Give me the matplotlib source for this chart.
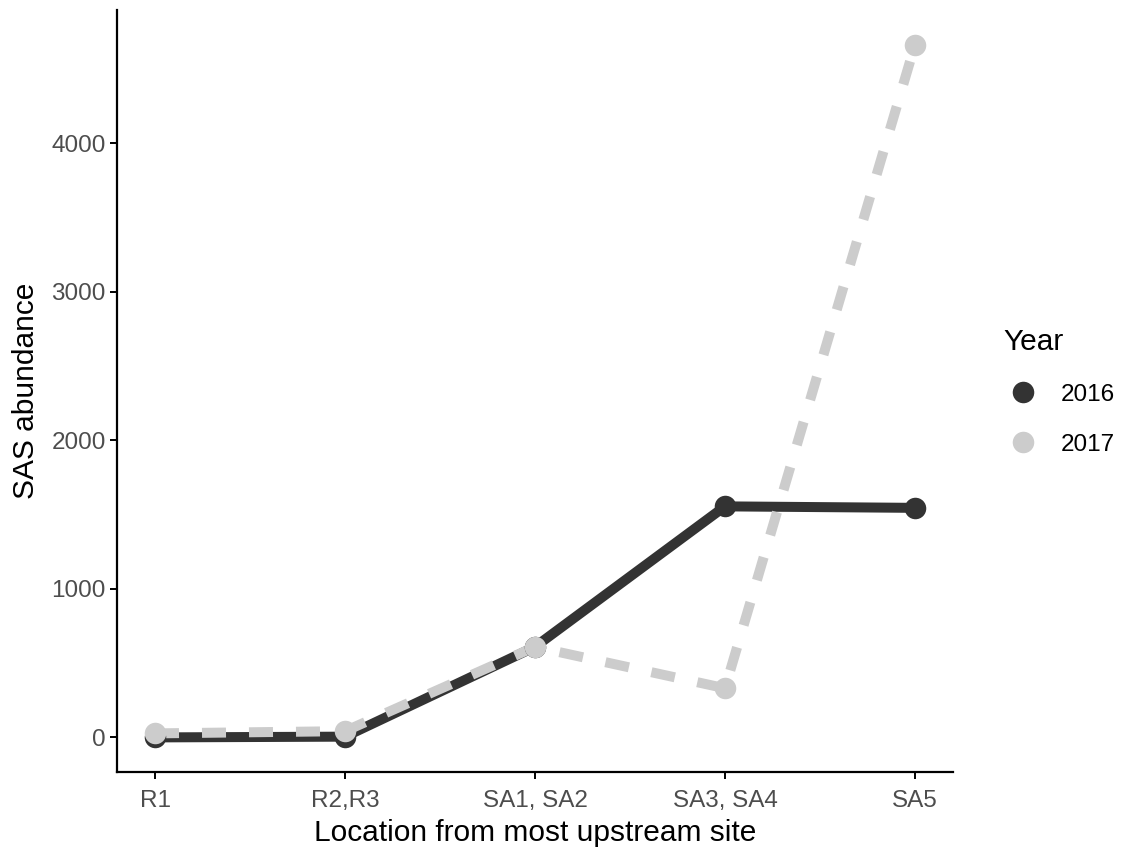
import matplotlib.pyplot as plt
from matplotlib.lines import Line2D

plt.rcParams['font.family'] = ['Liberation Sans', 'DejaVu Sans']

# sites ordered from upstream to downstream
sites = ["R1", "R2,R3", "SA1, SA2", "SA3, SA4", "SA5"]
site_pos = [1, 2, 3, 4, 5]
abund_2016 = [0, 5, 610, 1556, 1546]
abund_2017 = [27, 42, 610, 331, 4666]

dark = "#333333"
light = "#CCCCCC"

fig = plt.figure(figsize=(11.23, 8.51), dpi=100)
ax = fig.add_axes([117 / 1123, 1 - 772 / 851, (953 - 117) / 1123, (772 - 10) / 851])

# lines first, then points on top (2017 over 2016)
ax.plot(site_pos, abund_2016, color=dark, lw=7.2, solid_capstyle="butt", zorder=2)
ax.plot(site_pos, abund_2017, color=light, lw=7.2, dashes=(2.4, 2.3),
        dash_capstyle="butt", zorder=3)
ax.plot(site_pos, abund_2016, "o", color=dark, ms=15.5, mew=0, zorder=4)
ax.plot(site_pos, abund_2017, "o", color=light, ms=15.5, mew=0, zorder=5)

ax.set_xlim(0.8, 5.2)
ax.set_ylim(-233, 4899)
ax.set_xticks(site_pos)
ax.set_xticklabels(sites)
ax.set_yticks([0, 1000, 2000, 3000, 4000])

for side in ["top", "right"]:
    ax.spines[side].set_visible(False)
for side in ["left", "bottom"]:
    ax.spines[side].set_linewidth(1.6)
ax.tick_params(axis="both", length=5, width=1.4, color="black",
               labelsize=17.5, labelcolor="#4D4D4D", pad=3)
ax.tick_params(axis="x", pad=8)

ax.set_xlabel("Location from most upstream site", fontsize=21.5, labelpad=5)
ax.set_ylabel("SAS abundance", fontsize=21.5, labelpad=8)

handles = [Line2D([], [], ls="", marker="o", color=dark, ms=15.5, mew=0),
           Line2D([], [], ls="", marker="o", color=light, ms=15.5, mew=0)]
leg = fig.legend(handles, ["2016", "2017"], title="Year",
                 loc="upper left", bbox_to_anchor=(994 / 1123, 1 - 318 / 851),
                 frameon=False, fontsize=17.5, title_fontsize=21.5,
                 handlelength=1.6, handletextpad=0.75, labelspacing=1.15,
                 borderaxespad=0)
leg._legend_box.align = "left"

fig.savefig("out.png", dpi=100)
